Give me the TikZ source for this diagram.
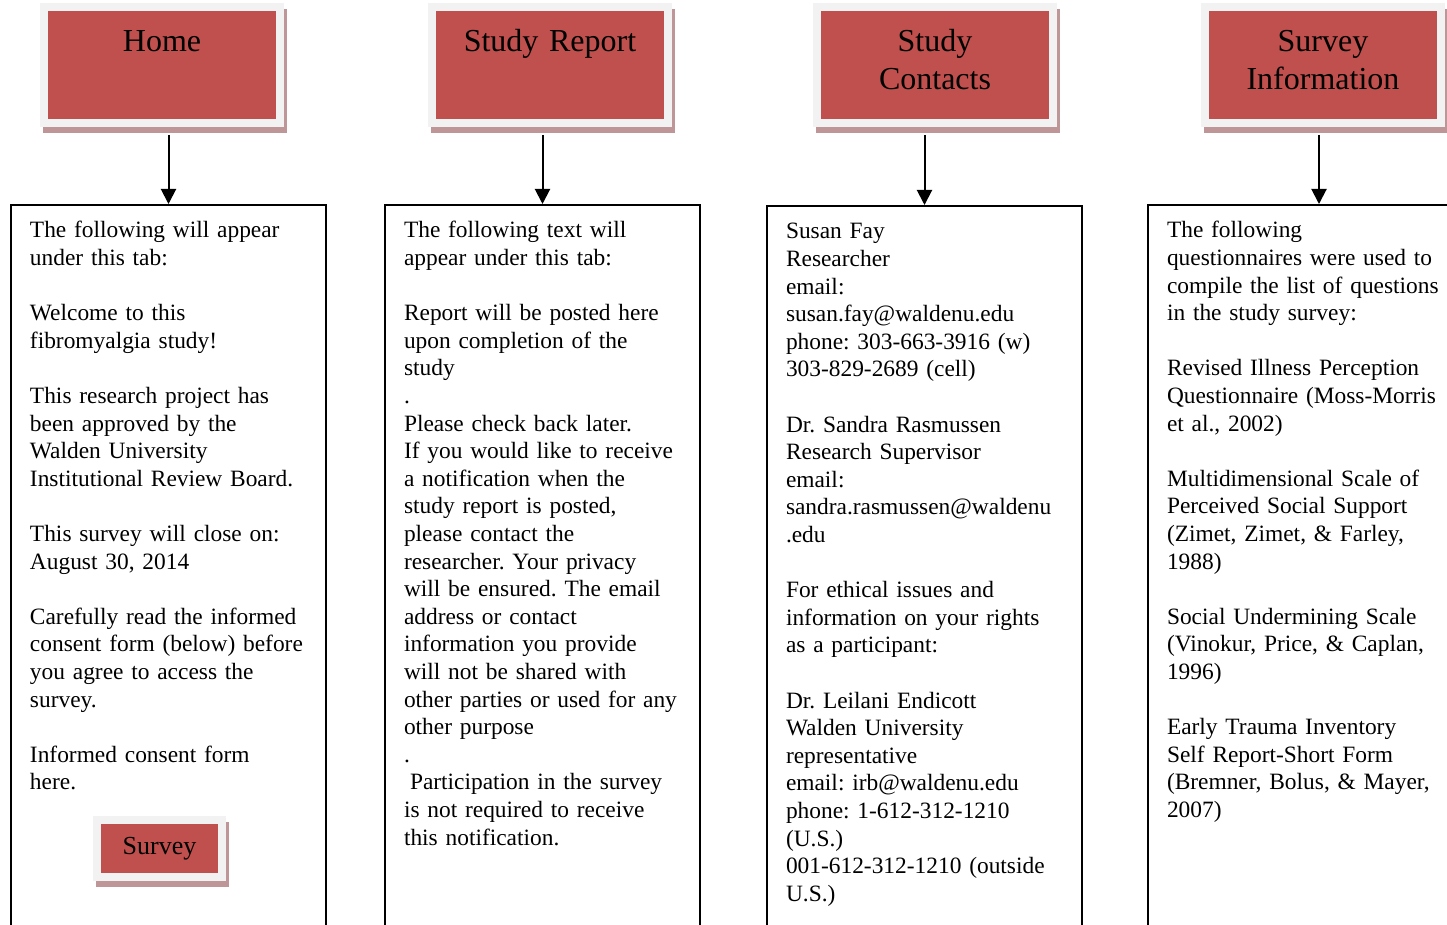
\documentclass[tikz,border=0pt]{standalone}
\usepackage{fontspec}
\setmainfont{Liberation Serif}
\usetikzlibrary{arrows.meta,shadows}

\definecolor{tabred}{HTML}{C0504D}
\definecolor{tabgray}{HTML}{F2F2F2}
\definecolor{tabshade}{HTML}{BF9698}

\frenchspacing
\hyphenpenalty=10000\relax
\tikzset{
  tabbase/.style={rectangle, fill=tabred, draw=tabgray, line width=4pt, inner sep=0pt, align=center,
    drop shadow={shadow xshift=1.5pt, shadow yshift=-3pt, fill=tabshade, draw=tabshade, opacity=1}},
  tab/.style={tabbase, text width=118pt, minimum height=58pt,
    font=\fontsize{16}{19}\selectfont, text height=22.2pt, text depth=35.8pt},
  button/.style={tabbase, minimum width=62.5pt, minimum height=28.5pt, font=\fontsize{13}{15}\selectfont},
  panel/.style={draw, line width=1pt, anchor=north west, text width=138.5pt, inner xsep=9.5pt, inner ysep=8pt,
    align=left, font=\fontsize{11.7}{13.8}\selectfont, text height=8.5pt, text depth=390pt},
  arrow/.style={line width=1pt, -{Triangle[length=7.5pt,width=7.5pt]}, shorten <=4pt}
}

\begin{document}
\begin{tikzpicture}[x=0.5pt,y=-0.5pt]
    \path[use as bounding box, clip] (0,0) rectangle (1447,925);

    % tabs on top
    \foreach \x/\name/\txt in {162/h1/Home, 550/h2/Study Report, 935/h3/{Study\\Contacts}, 1323/h4/{Survey\\Information}}
        \node[tab] (\name) at (\x,65) {\txt};

    % boxes under the tabs
    \node[panel] (b1) at (10,204) {The following will appear\\
        under this tab:\\[13.8pt]
        Welcome to this\\
        fibromyalgia study!\\[13.8pt]
        This research project has\\
        been approved by the\\
        Walden University\\
        Institutional Review Board.\\[13.8pt]
        This survey will close on:\\
        August 30, 2014\\[13.8pt]
        Carefully read the informed\\
        consent form (below) before\\
        you agree to access the\\
        survey.\\[13.8pt]
        Informed consent form\\
        here.};
    \node[panel] (b2) at (384,204) {The following text will\\
        appear under this tab:\\[13.8pt]
        Report will be posted here\\
        upon completion of the\\
        study\\
        .\\
        Please check back later.\\
        If you would like to receive\\
        a notification when the\\
        study report is posted,\\
        please contact the\\
        researcher. Your privacy\\
        will be ensured. The email\\
        address or contact\\
        information you provide\\
        will not be shared with\\
        other parties or used for any\\
        other purpose\\
        .\\
        \hspace*{3pt}Participation in the survey\\
        is not required to receive\\
        this notification.};
    \node[panel] (b3) at (766,205) {Susan Fay\\
        Researcher\\
        email:\\
        susan.fay@waldenu.edu\\
        phone: 303-663-3916 (w)\\
        303-829-2689 (cell)\\[13.8pt]
        Dr. Sandra Rasmussen\\
        Research Supervisor\\
        email:\\
        sandra.rasmussen@waldenu\\
        .edu\\[13.8pt]
        For ethical issues and\\
        information on your rights\\
        as a participant:\\[13.8pt]
        Dr. Leilani Endicott\\
        Walden University\\
        representative\\
        email: irb@waldenu.edu\\
        phone: 1-612-312-1210\\
        (U.S.)\\
        001-612-312-1210 (outside\\
        U.S.)};
    \node[panel, text width=152pt] (b4) at (1147,204) {The following\\
        questionnaires were used to\\
        compile the list of questions\\
        in the study survey:\\[13.8pt]
        Revised Illness Perception\\
        Questionnaire (Moss-Morris\\
        et al., 2002)\\[13.8pt]
        Multidimensional Scale of\\
        Perceived Social Support\\
        (Zimet, Zimet, \& Farley,\\
        1988)\\[13.8pt]
        Social Undermining Scale\\
        (Vinokur, Price, \& Caplan,\\
        1996)\\[13.8pt]
        Early Trauma Inventory\\
        Self Report-Short Form\\
        (Bremner, Bolus, \& Mayer,\\
        2007)};

    \node[button] (survey) at (159.5,848.5) {Survey};

    % arrows from tabs down to boxes
    \foreach \i in {1,2,3,4}
        \draw[arrow] (h\i.south -| b\i.north) -- (b\i.north);
\end{tikzpicture}
\end{document}
